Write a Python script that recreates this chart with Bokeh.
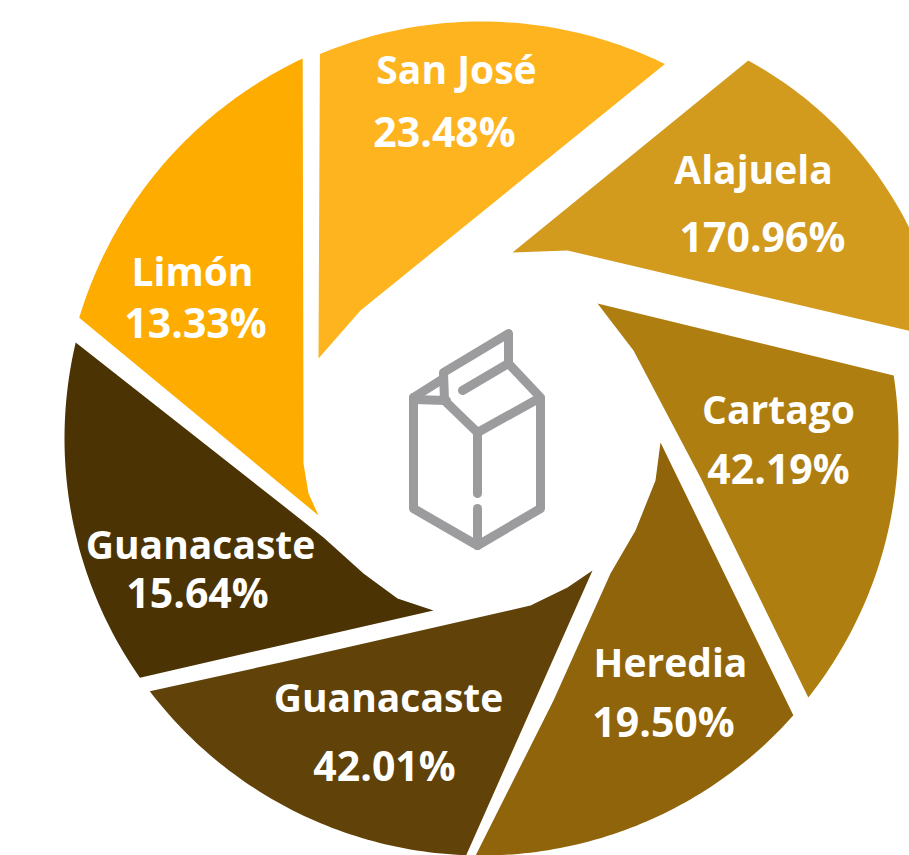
import numpy as np
from bokeh.core.properties import value
from bokeh.embed import file_html
from bokeh.models import ColumnDataSource, Range1d
from bokeh.plotting import figure
from bokeh.resources import INLINE

regions = ["San José", "Alajuela", "Cartago", "Heredia", "Guanacaste", "Guanacaste", "Limón"]
shares = [23.48, 170.96, 42.19, 19.50, 42.01, 15.64, 13.33]
colors = ["#FDB41F", "#D39B1E", "#AF7E10", "#8F640A", "#614208", "#4B3304", "#FEAC00"]

# blade outer arcs: clockwise degrees from north
arc_start = [-22.8, 28.6, 81.3, 131.6, 182.1, 235.0, 286.7]
arc_end = [26.1, 81.0, 128.4, 180.8, 232.7, 283.3, 334.8]
arc_cx = [481, 563, 481, 481, 481, 481, 481]
arc_cy = [438, 399, 438, 438, 438, 438, 438]
arc_r = [417, 386, 417, 417, 417, 417, 420]

# inner outline of each blade, walked from arc end back to arc start
inner_x = [
    [360, 318], [567, 512], [700, 633, 597],
    [553, 610, 635, 655, 660], [280, 530, 567, 592],
    [280, 323, 363, 397, 433], [303, 303, 308, 318],
]
inner_y = [
    [310, 358], [250, 252], [477, 350, 303],
    [700, 573, 530, 480, 442], [662, 605, 587, 570],
    [503, 537, 573, 598, 610], [430, 463, 493, 515],
]

# label anchor positions
name_x = [456, 753, 778, 670, 388, 200, 192]
name_y = [68, 168, 408, 661, 696, 543, 270]
pct_x = [444, 762, 778, 663, 384, 197, 195]
pct_y = [130, 235, 467, 720, 764, 591, 321]

# milk carton icon strokes
icon_x = [[413, 413, 477, 540, 540, 508, 508, 443, 444, 477, 540],
          [477, 477], [477, 477], [462, 508], [413, 443], [413, 446]]
icon_y = [[397, 508, 545, 508, 397, 363, 333, 372, 400, 432, 397],
          [432, 493], [508, 545], [390, 363], [397, 378], [399, 400]]

W, H = 909, 855
p = figure(width=W, height=H, output_backend="svg", toolbar_location=None,
           x_range=Range1d(0, W), y_range=Range1d(H, 0),
           min_border=0, outline_line_color=None, background_fill_color="white")
p.xaxis.visible = False
p.yaxis.visible = False
p.grid.visible = False

xs, ys = [], []
for a0, a1, cx, cy, r, ix, iy in zip(arc_start, arc_end, arc_cx, arc_cy, arc_r, inner_x, inner_y):
    t = np.radians(np.linspace(a0, a1, 60))
    xs.append(list(cx + r * np.sin(t)) + ix)
    ys.append(list(cy - r * np.cos(t)) + iy)

p.patches(xs, ys, fill_color=colors, line_color=None)
p.multi_line(icon_x, icon_y, line_color="#9C9B9D", line_width=9,
             line_cap="round", line_join="round")

names = ColumnDataSource(dict(x=name_x, y=name_y, t=regions))
pcts = ColumnDataSource(dict(x=pct_x, y=pct_y, t=[f"{v:.2f}%" for v in shares]))
for src, size in ((names, "39px"), (pcts, "41px")):
    p.text("x", "y", text="t", source=src, text_color="white",
           text_font=value("Open Sans"), text_font_style="bold",
           text_font_size=size, text_align="center", text_baseline="middle")

open("out.html", "w").write(file_html(p, INLINE))
